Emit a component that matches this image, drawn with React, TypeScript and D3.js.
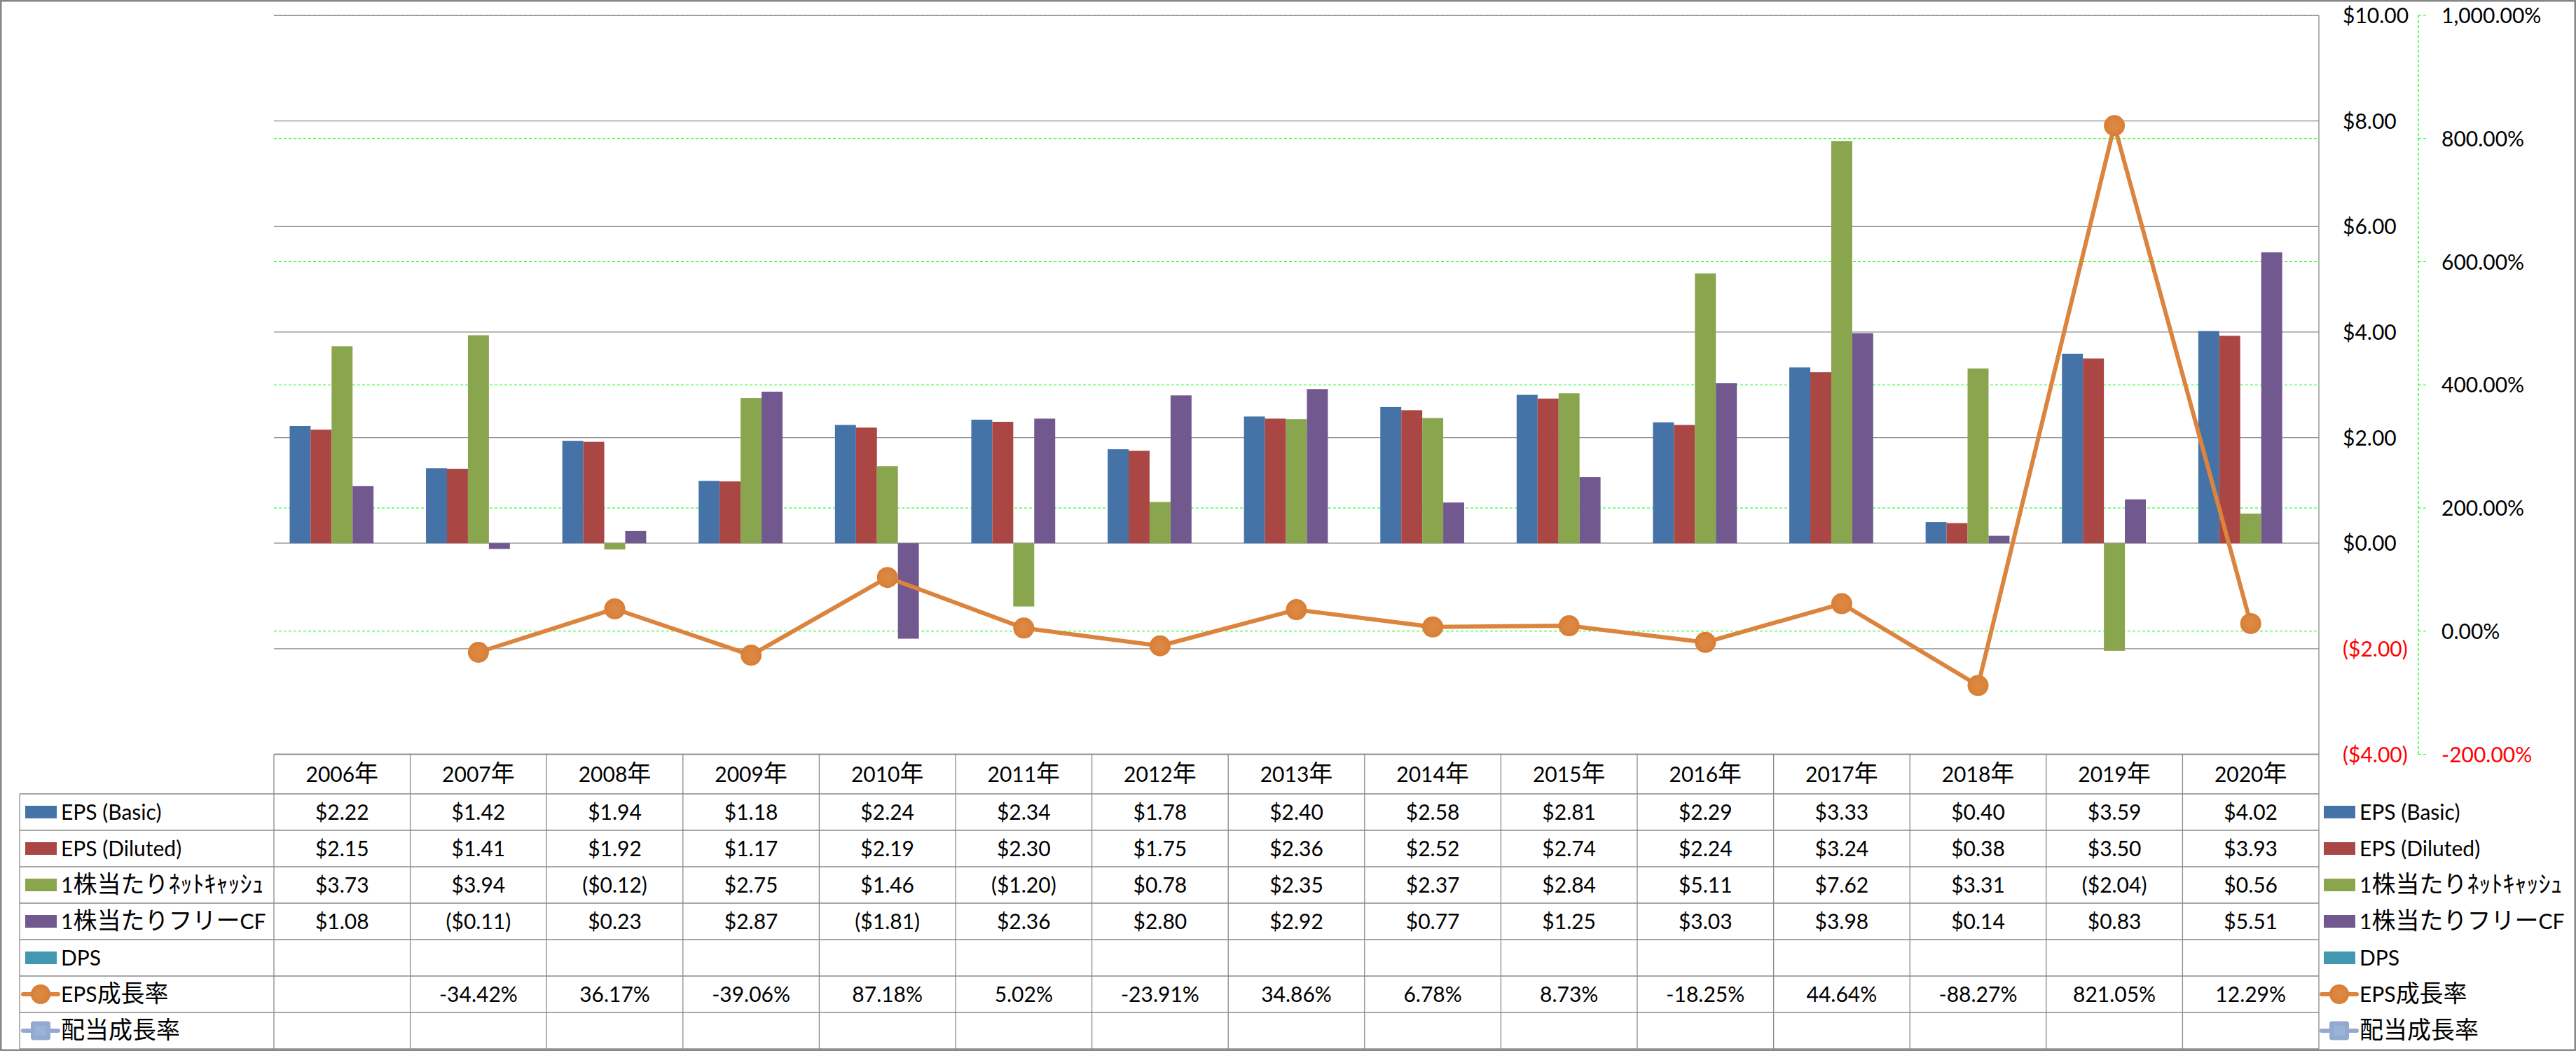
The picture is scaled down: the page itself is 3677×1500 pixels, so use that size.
import React from "react";
import * as d3 from "d3";

const years = ["2006年","2007年","2008年","2009年","2010年","2011年","2012年","2013年","2014年","2015年","2016年","2017年","2018年","2019年","2020年"];
const epsBasic = [2.22,1.42,1.94,1.18,2.24,2.34,1.78,2.40,2.58,2.81,2.29,3.33,0.40,3.59,4.02];
const epsDiluted = [2.15,1.41,1.92,1.17,2.19,2.30,1.75,2.36,2.52,2.74,2.24,3.24,0.38,3.50,3.93];
const netCash = [3.73,3.94,-0.12,2.75,1.46,-1.20,0.78,2.35,2.37,2.84,5.11,7.62,3.31,-2.04,0.56];
const fcf = [1.08,-0.11,0.23,2.87,-1.81,2.36,2.80,2.92,0.77,1.25,3.03,3.98,0.14,0.83,5.51];
const dps: (number | null)[] = years.map(() => null);
const epsGrowth: (number | null)[] = [null,-34.42,36.17,-39.06,87.18,5.02,-23.91,34.86,6.78,8.73,-18.25,44.64,-88.27,821.05,12.29];
const divGrowth: (number | null)[] = years.map(() => null);

const leftTicks = [-4,-2,0,2,4,6,8,10];
const rightTicks = [-200,0,200,400,600,800,1000];

const barSeries = [
  { name: "EPS (Basic)", values: epsBasic, color: "#4572A7" },
  { name: "EPS (Diluted)", values: epsDiluted, color: "#AA4643" },
  { name: "1株当たりﾈｯﾄｷｬｯｼｭ", values: netCash, color: "#89A54E" },
  { name: "1株当たりフリーCF", values: fcf, color: "#71588F" },
  { name: "DPS", values: dps, color: "#4198AF" },
];
const lineSeries = [
  { name: "EPS成長率", values: epsGrowth, color: "#DB843D", marker: "circle" },
  { name: "配当成長率", values: divGrowth, color: "#93A9CF", marker: "square" },
];

const W = 3677, H = 1500;
const PL = 391, PR = 3310, PT = 22, PB = 1076.5;
const TBL_LEFT = 28, HEADER_BOTTOM = 1133, ROW_H = 52;
const GRID = "#8a8a8a";
const LATIN = "Lato, 'Noto Sans', sans-serif";
const CJKF = "'Noto Sans CJK JP', 'Noto Sans CJK SC', sans-serif";

const CJK_RE = /[\u3000-\u30ff\u3400-\u9fff\uff00-\uffef]/;
function runs(s: string) {
  const out: { t: string; cjk: boolean }[] = [];
  for (const ch of s) {
    const c = CJK_RE.test(ch);
    if (out.length && out[out.length - 1].cjk === c) out[out.length - 1].t += ch;
    else out.push({ t: ch, cjk: c });
  }
  return out;
}
function Txt({ x, y, s, anchor = "start", fill = "#000" }: any) {
  return (
    <text x={x} y={y} textAnchor={anchor} fill={fill} fontFamily={LATIN} fontSize={30}>
      {runs(s).map((r, i) => (
        <tspan key={i} fontFamily={r.cjk ? CJKF : LATIN} fontSize={r.cjk ? 34 : 30}>{r.t}</tspan>
      ))}
    </text>
  );
}

const loc = d3.formatLocale({ decimal: ".", thousands: ",", grouping: [3], currency: ["$", ""], minus: "-" });
const f2 = loc.format(".2f");
const fc2 = loc.format(",.2f");
const money = (v: number) => (v < 0 ? `($${f2(-v)})` : `$${f2(v)}`);
const pct = (v: number) => `${fc2(v)}%`;

function Key({ x, cy, s }: any) {
  if (s.marker === "circle") {
    return (
      <g>
        <line x1={x - 3} x2={x + 47} y1={cy} y2={cy} stroke={s.color} strokeWidth={6} strokeLinecap="round" />
        <circle cx={x + 22} cy={cy} r={14} fill="url(#mk)" />
      </g>
    );
  }
  if (s.marker === "square") {
    return (
      <g>
        <line x1={x - 3} x2={x + 47} y1={cy} y2={cy} stroke={s.color} strokeWidth={6} strokeLinecap="round" />
        <rect x={x + 8} y={cy - 13.5} width={28} height={27} rx={4} fill={s.color} />
        <rect x={x + 14} y={cy - 7} width={16} height={14} fill="#9AB2D6" />
      </g>
    );
  }
  return <rect x={x} y={cy - 9} width={45} height={18} fill={s.color} />;
}

export default function App() {
  const x0 = d3.scaleBand<string>().domain(years).range([PL, PR]).padding(0);
  const x1 = d3.scaleBand<string>().domain(barSeries.map((s) => s.name)).range([0, x0.bandwidth()]).paddingInner(0).paddingOuter(0.75);
  const yL = d3.scaleLinear().domain([-4, 10]).range([PB, PT]);
  const yR = d3.scaleLinear().domain([-200, 1000]).range([PB, PT]);
  const cx = (yr: string) => (x0(yr) as number) + x0.bandwidth() / 2;

  const line = d3.line<number | null>()
    .defined((d) => d != null)
    .x((_, i) => cx(years[i]))
    .y((d) => yR(d as number));

  const allSeries = [...barSeries.map((s) => ({ ...s, marker: "bar" })), ...lineSeries];
  const rowCenter = (i: number) => HEADER_BOTTOM + ROW_H * i + ROW_H / 2;
  const tableBottom = HEADER_BOTTOM + ROW_H * allSeries.length;

  return (
    <svg width={W} height={H} style={{ position: "absolute", left: 0, top: 0, display: "block", background: "#fff" }}>
      <defs>
        <radialGradient id="mk" cx="50%" cy="50%" r="50%">
          <stop offset="0%" stopColor="#DE8A45" />
          <stop offset="60%" stopColor="#DB843D" />
          <stop offset="100%" stopColor="#D77E36" />
        </radialGradient>
      </defs>
      <rect x={0} y={0} width={W} height={H} fill="#fff" />

      {/* secondary (%) gridlines */}
      {rightTicks.map((t) => (
        <line key={"g" + t} x1={PL} x2={PR} y1={yR(t)} y2={yR(t)} stroke="#00FF00" strokeWidth={1.2} strokeDasharray="4,3" />
      ))}
      {/* primary gridlines */}
      {leftTicks.map((t) => (
        <line key={"p" + t} x1={PL} x2={PR} y1={yL(t)} y2={yL(t)} stroke={GRID} strokeWidth={1.3} />
      ))}

      {/* bars */}
      {barSeries.map((s) => (
        <g key={s.name} fill={s.color}>
          {s.values.map((v, i) =>
            v == null ? null : (
              <rect key={i}
                x={(x0(years[i]) as number) + (x1(s.name) as number)}
                y={yL(Math.max(0, v))}
                width={x1.bandwidth()}
                height={Math.abs(yL(v) - yL(0))} />
            )
          )}
        </g>
      ))}

      {/* lines */}
      {lineSeries.map((s) => (
        <g key={s.name}>
          <path d={line(s.values) || ""} fill="none" stroke={s.color} strokeWidth={6} strokeLinejoin="round" />
          {s.values.map((v, i) =>
            v == null ? null : s.marker === "circle" ? (
              <circle key={i} cx={cx(years[i])} cy={yR(v)} r={15} fill="url(#mk)" />
            ) : (
              <rect key={i} x={cx(years[i]) - 14} y={yR(v) - 14} width={28} height={28} rx={4} fill={s.color} />
            )
          )}
        </g>
      ))}

      {/* right primary axis line */}
      <line x1={PR} x2={PR} y1={PT} y2={tableBottom} stroke={GRID} strokeWidth={1.3} />

      {/* primary axis labels */}
      {leftTicks.map((t) => (
        <Txt key={"l" + t} x={3344} y={yL(t) + 11} s={money(t)} fill={t < 0 ? "#FF0000" : "#000"} />
      ))}

      {/* secondary axis */}
      <line x1={3452} x2={3452} y1={PT} y2={PB} stroke="#00FF00" strokeWidth={1.2} strokeDasharray="4,3" />
      {rightTicks.map((t) => (
        <g key={"r" + t}>
          <line x1={3452} x2={3464} y1={yR(t)} y2={yR(t)} stroke="#00FF00" strokeWidth={1.2} strokeDasharray="4,3" />
          <Txt x={3485} y={yR(t) + 11} s={pct(t)} fill={t < 0 ? "#FF0000" : "#000"} />
        </g>
      ))}

      {/* data table */}
      <g stroke={GRID} strokeWidth={1.3}>
        <line x1={PL} x2={PR} y1={PB} y2={PB} />
        {d3.range(allSeries.length + 1).map((i) => (
          <line key={"h" + i} x1={TBL_LEFT} x2={PR} y1={HEADER_BOTTOM + ROW_H * i} y2={HEADER_BOTTOM + ROW_H * i} />
        ))}
        <line x1={TBL_LEFT} x2={TBL_LEFT} y1={HEADER_BOTTOM} y2={tableBottom} />
        {years.map((yr) => (
          <line key={"v" + yr} x1={x0(yr)} x2={x0(yr)} y1={PB} y2={tableBottom} />
        ))}
      </g>
      {years.map((yr) => (
        <Txt key={"hd" + yr} x={cx(yr)} y={(PB + HEADER_BOTTOM) / 2 + 11} s={yr} anchor="middle" />
      ))}
      {allSeries.map((s, r) => (
        <g key={"row" + s.name}>
          <Key x={36} cy={rowCenter(r)} s={s} />
          <Txt x={87} y={rowCenter(r) + 11} s={s.name} />
          {s.values.map((v, i) =>
            v == null ? null : (
              <Txt key={i} x={cx(years[i])} y={rowCenter(r) + 11}
                s={s.marker === "bar" ? money(v as number) : pct(v as number)} anchor="middle" />
            )
          )}
          <Key x={3317} cy={rowCenter(r)} s={s} />
          <Txt x={3368} y={rowCenter(r) + 11} s={s.name} />
        </g>
      ))}

      {/* chart border */}
      <rect x={1.25} y={1.25} width={W - 2.5} height={H - 2.5} fill="none" stroke="#868686" strokeWidth={2.5} />
    </svg>
  );
}
